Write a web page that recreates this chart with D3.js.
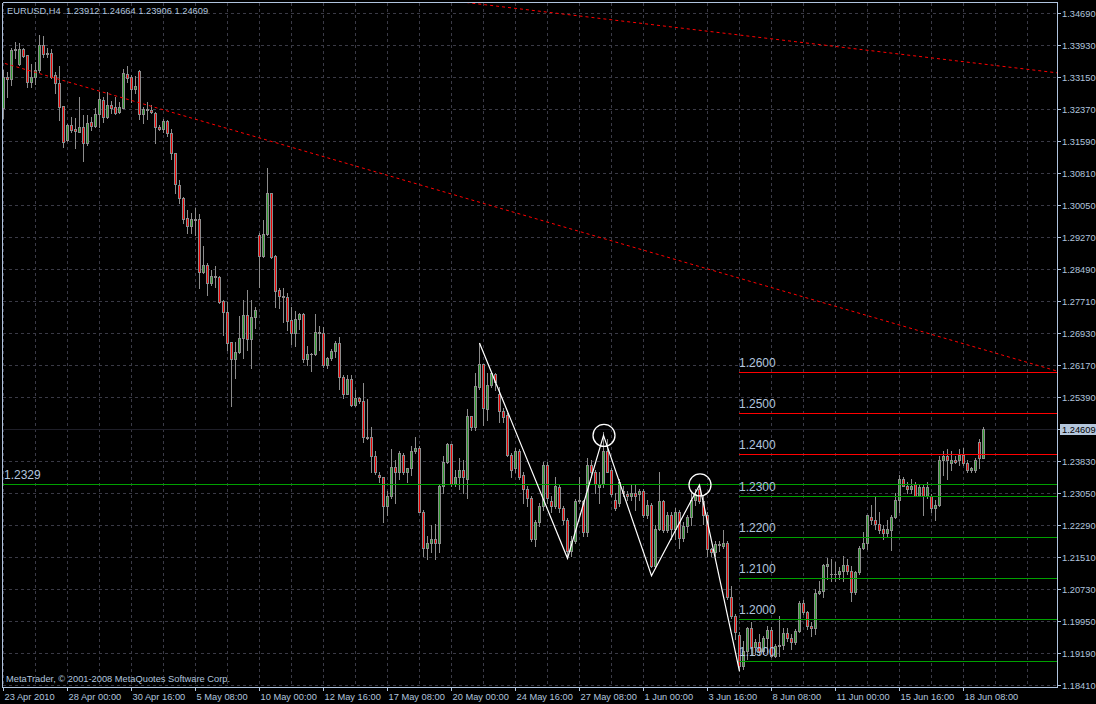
<!DOCTYPE html>
<html><head><meta charset="utf-8">
<script src="https://cdn.jsdelivr.net/npm/d3@7"></script>
<style>
html,body{margin:0;padding:0;background:#000;}
svg{display:block;}
text{font-family:"Liberation Sans",Arial,sans-serif;}
</style></head><body>
<svg id="c" width="1096" height="704"></svg>
<script>
// ---------------- data ----------------
const symbolTitle = "EURUSD,H4";
const startTimeUTC = "2010-04-23T08:00:00Z";   // first H4 bar
const opens = [1.3239,1.3314,1.3309,1.3380,1.3346,1.3382,1.3367,1.3302,1.3314,1.3331,
1.3392,1.3372,1.3372,1.3319,1.3300,1.3244,1.3162,1.3198,1.3188,1.3181,
1.3193,1.3154,1.3205,1.3196,1.3225,1.3259,1.3217,1.3246,1.3242,1.3230,
1.3239,1.3321,1.3314,1.3285,1.3329,1.3225,1.3234,1.3234,1.3227,1.3193,
1.3188,1.3208,1.3179,1.3130,1.3053,1.3021,1.2973,1.2954,1.2970,1.2970,
1.2842,1.2859,1.2816,1.2833,1.2830,1.2772,1.2746,1.2673,1.2632,1.2649,
1.2682,1.2738,1.2680,1.2733,1.2932,1.2881,1.2934,1.3033,1.2881,1.2799,
1.2784,1.2782,1.2726,1.2695,1.2729,1.2741,1.2632,1.2644,1.2644,1.2697,
1.2695,1.2617,1.2634,1.2651,1.2670,1.2588,1.2547,1.2583,1.2520,1.2537,
1.2530,1.2441,1.2441,1.2395,1.2351,1.2346,1.2274,1.2298,1.2370,1.2356,
1.2399,1.2358,1.2366,1.2409,1.2416,1.2261,1.2174,1.2184,1.2194,1.2184,
1.2322,1.2382,1.2424,1.2327,1.2344,1.2363,1.2341,1.2494,1.2467,1.2564,
1.2620,1.2511,1.2569,1.2595,1.2545,1.2506,1.2496,1.2399,1.2366,1.2409,
1.2351,1.2315,1.2295,1.2194,1.2235,1.2274,1.2373,1.2286,1.2274,1.2320,
1.2271,1.2240,1.2165,1.2189,1.2286,1.2286,1.2211,1.2375,1.2356,1.2320,
1.2327,1.2409,1.2361,1.2290,1.2283,1.2312,1.2303,1.2298,1.2307,1.2303,
1.2310,1.2254,1.2276,1.2128,1.2220,1.2286,1.2216,1.2252,1.2218,1.2259,
1.2196,1.2225,1.2247,1.2290,1.2317,1.2288,1.2254,1.2170,1.2162,1.2182,
1.2177,1.2184,1.2053,1.2007,1.1961,1.1886,1.1923,1.1978,1.1932,1.1944,
1.1923,1.1954,1.1973,1.1911,1.1935,1.1937,1.1966,1.1954,1.1944,1.1971,
1.2039,1.2017,1.1983,1.1978,1.2063,1.2068,1.2128,1.2111,1.2109,1.2109,
1.2116,1.2131,1.2116,1.2066,1.2114,1.2174,1.2184,1.2249,1.2240,1.2232,
1.2218,1.2208,1.2216,1.2247,1.2290,1.2339,1.2324,1.2315,1.2329,1.2300,
1.2320,1.2300,1.2298,1.2269,1.2278,1.2387,1.2397,1.2380,1.2387,1.2387,
1.2399,1.2380,1.2361,1.2363,1.2431,1.23912];
const highs = [1.3331,1.3326,1.3384,1.3399,1.3396,1.3384,1.3367,1.3346,1.3351,1.3416,
1.3413,1.3384,1.3382,1.3326,1.3341,1.3244,1.3200,1.3217,1.3215,1.3266,
1.3222,1.3222,1.3217,1.3239,1.3278,1.3266,1.3278,1.3256,1.3266,1.3254,
1.3334,1.3341,1.3319,1.3317,1.3331,1.3242,1.3254,1.3246,1.3230,1.3198,
1.3212,1.3210,1.3188,1.3130,1.3065,1.3024,1.2992,1.2985,1.2997,1.2983,
1.2905,1.2864,1.2847,1.2857,1.2833,1.2774,1.2770,1.2673,1.2673,1.2736,
1.2774,1.2799,1.2774,1.2758,1.2937,1.2968,1.3094,1.3033,1.2883,1.2804,
1.2804,1.2791,1.2758,1.2748,1.2743,1.2743,1.2663,1.2646,1.2741,1.2712,
1.2709,1.2637,1.2656,1.2675,1.2685,1.2593,1.2593,1.2593,1.2557,1.2540,
1.2574,1.2535,1.2465,1.2407,1.2356,1.2346,1.2310,1.2414,1.2387,1.2407,
1.2404,1.2368,1.2419,1.2443,1.2419,1.2264,1.2203,1.2228,1.2232,1.2327,
1.2395,1.2428,1.2424,1.2363,1.2392,1.2387,1.2511,1.2494,1.2598,1.2670,
1.2620,1.2598,1.2600,1.2598,1.2564,1.2513,1.2501,1.2404,1.2416,1.2412,
1.2356,1.2322,1.2298,1.2240,1.2283,1.2382,1.2382,1.2298,1.2346,1.2327,
1.2274,1.2245,1.2201,1.2291,1.2344,1.2290,1.2392,1.2387,1.2363,1.2356,
1.2455,1.2436,1.2366,1.2307,1.2339,1.2322,1.2310,1.2327,1.2327,1.2315,
1.2315,1.2290,1.2283,1.2228,1.2356,1.2290,1.2259,1.2259,1.2271,1.2266,
1.2235,1.2254,1.2307,1.2315,1.2327,1.2298,1.2259,1.2174,1.2189,1.2189,
1.2216,1.2191,1.2080,1.2012,1.1969,1.1947,1.1981,1.1993,1.1952,1.1964,
1.1959,1.1983,1.1981,1.1940,1.2007,1.1978,1.1978,1.1964,1.1976,1.2044,
1.2046,1.2020,1.1993,1.2073,1.2092,1.2133,1.2148,1.2145,1.2140,1.2126,
1.2153,1.2145,1.2128,1.2116,1.2177,1.2211,1.2254,1.2276,1.2298,1.2259,
1.2228,1.2240,1.2252,1.2307,1.2349,1.2346,1.2332,1.2341,1.2332,1.2327,
1.2327,1.2332,1.2303,1.2290,1.2395,1.2409,1.2412,1.2407,1.2395,1.2412,
1.2416,1.2387,1.2370,1.2392,1.2438,1.24664];
const lows = [1.3215,1.3266,1.3295,1.3360,1.3343,1.3363,1.3290,1.3290,1.3297,1.3326,
1.3363,1.3363,1.3312,1.3275,1.3210,1.3145,1.3159,1.3181,1.3142,1.3181,
1.3111,1.3150,1.3186,1.3193,1.3193,1.3205,1.3215,1.3227,1.3225,1.3227,
1.3239,1.3302,1.3254,1.3275,1.3212,1.3203,1.3212,1.3227,1.3154,1.3186,
1.3181,1.3171,1.3116,1.3033,1.3009,1.2961,1.2937,1.2937,1.2932,1.2804,
1.2840,1.2787,1.2811,1.2806,1.2767,1.2690,1.2654,1.2516,1.2586,1.2646,
1.2634,1.2654,1.2610,1.2707,1.2806,1.2879,1.2932,1.2876,1.2758,1.2755,
1.2721,1.2702,1.2668,1.2663,1.2704,1.2624,1.2617,1.2603,1.2641,1.2654,
1.2612,1.2610,1.2629,1.2637,1.2559,1.2537,1.2545,1.2516,1.2516,1.2525,
1.2431,1.2438,1.2358,1.2353,1.2332,1.2235,1.2254,1.2295,1.2283,1.2339,
1.2353,1.2334,1.2349,1.2404,1.2259,1.2153,1.2145,1.2162,1.2145,1.2162,
1.2307,1.2380,1.2322,1.2322,1.2315,1.2307,1.2295,1.2458,1.2460,1.2559,
1.2470,1.2484,1.2564,1.2557,1.2479,1.2479,1.2395,1.2346,1.2358,1.2339,
1.2283,1.2274,1.2189,1.2177,1.2225,1.2266,1.2283,1.2261,1.2271,1.2261,
1.2232,1.2153,1.2153,1.2184,1.2283,1.2203,1.2203,1.2346,1.2307,1.2283,
1.2320,1.2356,1.2298,1.2266,1.2274,1.2298,1.2290,1.2290,1.2266,1.2290,
1.2249,1.2245,1.2126,1.2124,1.2216,1.2211,1.2211,1.2194,1.2194,1.2174,
1.2189,1.2211,1.2228,1.2278,1.2281,1.2232,1.2153,1.2153,1.2153,1.2165,
1.2172,1.2049,1.2003,1.1952,1.1879,1.1879,1.1903,1.1915,1.1915,1.1915,
1.1915,1.1920,1.1908,1.1908,1.1911,1.1928,1.1947,1.1928,1.1940,1.1969,
1.2012,1.1976,1.1959,1.1964,1.2061,1.2053,1.2097,1.2092,1.2092,1.2097,
1.2092,1.2109,1.2044,1.2061,1.2111,1.2170,1.2170,1.2232,1.2220,1.2208,
1.2194,1.2203,1.2167,1.2245,1.2261,1.2322,1.2307,1.2305,1.2298,1.2298,
1.2254,1.2295,1.2261,1.2240,1.2274,1.2351,1.2339,1.2363,1.2378,1.2375,
1.2375,1.2358,1.2356,1.2358,1.2368,1.23906];
const closes = [1.3314,1.3309,1.3380,1.3382,1.3382,1.3365,1.3302,1.3314,1.3331,1.3392,
1.3370,1.3370,1.3314,1.3300,1.3242,1.3157,1.3198,1.3186,1.3183,1.3193,
1.3154,1.3203,1.3196,1.3225,1.3261,1.3217,1.3246,1.3239,1.3227,1.3242,
1.3324,1.3312,1.3285,1.3292,1.3225,1.3237,1.3237,1.3230,1.3193,1.3188,
1.3208,1.3179,1.3130,1.3055,1.3021,1.2970,1.2954,1.2970,1.2969,1.2842,
1.2859,1.2816,1.2833,1.2830,1.2770,1.2746,1.2670,1.2632,1.2649,1.2682,
1.2738,1.2680,1.2733,1.2750,1.2881,1.2934,1.3033,1.2879,1.2796,1.2784,
1.2782,1.2724,1.2695,1.2729,1.2741,1.2632,1.2644,1.2643,1.2697,1.2695,
1.2617,1.2634,1.2651,1.2670,1.2588,1.2547,1.2583,1.2520,1.2537,1.2530,
1.2441,1.2440,1.2395,1.2356,1.2346,1.2274,1.2300,1.2370,1.2356,1.2402,
1.2358,1.2366,1.2409,1.2416,1.2261,1.2174,1.2184,1.2194,1.2184,1.2322,
1.2382,1.2424,1.2327,1.2346,1.2363,1.2346,1.2494,1.2467,1.2566,1.2620,
1.2513,1.2569,1.2598,1.2576,1.2504,1.2491,1.2399,1.2363,1.2409,1.2344,
1.2317,1.2295,1.2194,1.2235,1.2274,1.2373,1.2295,1.2274,1.2322,1.2271,
1.2240,1.2165,1.2189,1.2286,1.2290,1.2211,1.2375,1.2356,1.2327,1.2329,
1.2409,1.2358,1.2303,1.2271,1.2332,1.2305,1.2298,1.2307,1.2300,1.2310,
1.2254,1.2276,1.2128,1.2220,1.2286,1.2216,1.2252,1.2220,1.2259,1.2196,
1.2225,1.2249,1.2290,1.2303,1.2288,1.2254,1.2170,1.2162,1.2182,1.2179,
1.2184,1.2053,1.2007,1.1969,1.1886,1.1923,1.1978,1.1932,1.1944,1.1923,
1.1954,1.1973,1.1911,1.1935,1.1937,1.1966,1.1954,1.1944,1.1971,1.2039,
1.2017,1.1983,1.1978,1.2063,1.2068,1.2131,1.2133,1.2109,1.2111,1.2116,
1.2131,1.2116,1.2066,1.2114,1.2174,1.2184,1.2252,1.2240,1.2230,1.2216,
1.2208,1.2218,1.2249,1.2290,1.2339,1.2324,1.2315,1.2322,1.2300,1.2320,
1.2300,1.2320,1.2269,1.2278,1.2387,1.2397,1.2387,1.2387,1.2382,1.2399,
1.2380,1.2363,1.2366,1.2385,1.2392,1.24609];

const priceTickLabels = ["1.34690","1.33930","1.33150","1.32370","1.31590","1.30810","1.30050",
"1.29270","1.28490","1.27710","1.26930","1.26170","1.25390","1.24610","1.23830","1.23050",
"1.22290","1.21510","1.20730","1.19950","1.19190","1.18410"];
const timeTickLabels = ["23 Apr 2010","28 Apr 00:00","30 Apr 16:00","5 May 08:00","10 May 00:00",
"12 May 16:00","17 May 08:00","20 May 00:00","24 May 16:00","27 May 08:00","1 Jun 00:00",
"3 Jun 16:00","8 Jun 08:00","11 Jun 00:00","15 Jun 16:00","18 Jun 08:00"];

const levelValues = [1.2600,1.2500,1.2400,1.2300,1.2200,1.2100,1.2000,1.1900];
const levelLabels = ["1.2600","1.2500","1.2400","1.2300","1.2200","1.2100","1.2000","1.1900"];
const levelKinds  = ["red","red","red","green","green","green","green","green"];
const levelStartBar = 184;
const fullLineValue = 1.2329;
const fullLineLabel = "1.2329";

const zigzagBars   = [119,141,150,162,174,184];
const zigzagPrices = [1.2671,1.2149,1.2447,1.2107,1.2327,1.1875];
const circleBars   = [150,174];
const circlePrices = [1.2447,1.2327];

const trendLowerBars   = [0,263.5];
const trendLowerPrices = [1.3350,1.2603];
const trendUpperBars   = [116.25,263.5];
const trendUpperPrices = [1.3496,1.3326];

const copyright = "MetaTrader, \u00A9 2001-2008 MetaQuotes Software Corp.";

// ---------------- drawing ----------------
const W = 1096, H = 704;
const L = 3, R = 1057, T = 3, B = 687;
const svg = d3.select("#c");
svg.append("rect").attr("width",W).attr("height",H).attr("fill","#000");

const x = d3.scaleLinear().domain([0,263.5]).range([L,R]);
const y = d3.scaleLinear().domain([1.26,1.19]).range([372.3,661.05]);
const py = v => Math.floor(y(v));

const fg = "#b0c4de";
const gridCol = "#3a3a46";
const fs = "9.3px";

svg.append("clipPath").attr("id","plot").append("rect")
  .attr("x",L).attr("y",T).attr("width",R-L).attr("height",B-T);
const plot = svg.append("g").attr("clip-path","url(#plot)");

// grid
const nBars = closes.length;
const vGrid = d3.range(0,264,8);
plot.append("g").selectAll("line").data(vGrid).join("line")
  .attr("x1",d=>Math.round(x(d))+0.5).attr("x2",d=>Math.round(x(d))+0.5)
  .attr("y1",T).attr("y2",B)
  .attr("stroke",gridCol).attr("stroke-dasharray","3,3").attr("stroke-width",1);
const priceTickValues = priceTickLabels.map(Number);
plot.append("g").selectAll("line").data(priceTickValues).join("line")
  .attr("x1",L).attr("x2",R)
  .attr("y1",d=>py(d)+0.5).attr("y2",d=>py(d)+0.5)
  .attr("stroke",gridCol).attr("stroke-dasharray","3,3").attr("stroke-width",1);

// bid line
const lastClose = closes[nBars-1];
plot.append("line").attr("x1",L).attr("x2",R)
  .attr("y1",py(lastClose)+0.5).attr("y2",py(lastClose)+0.5)
  .attr("stroke","#1e1e28").attr("stroke-width",1);

// candles
const bars = d3.range(nBars).map(i=>({i,o:opens[i],h:highs[i],l:lows[i],c:closes[i]}));
const cg = plot.append("g").attr("shape-rendering","crispEdges");
const wickCol = "#8c8c8c";
bars.forEach(b=>{
  const cx = Math.round(x(b.i));
  const yh = py(b.h), yl = py(b.l);
  cg.append("rect").attr("x",cx).attr("width",1).attr("y",yh).attr("height",Math.max(1,yl-yh+1)).attr("fill",wickCol);
  const top = py(Math.max(b.o,b.c)), bot = py(Math.min(b.o,b.c));
  cg.append("rect").attr("x",cx-1).attr("width",3).attr("y",top).attr("height",Math.max(1,bot-top+1)).attr("fill",wickCol);
  if (bot-top-1 > 0) {
    cg.append("rect").attr("x",cx).attr("width",1).attr("y",top+1).attr("height",bot-top-1)
      .attr("fill", b.c>=b.o ? "#2f9a2f" : "#ee0000");
  }
});

// level lines
const lvl = plot.append("g").attr("shape-rendering","crispEdges");
lvl.append("line").attr("x1",0).attr("x2",R)
  .attr("y1",py(fullLineValue)+0.5).attr("y2",py(fullLineValue)+0.5)
  .attr("stroke","#00a000").attr("stroke-width",1);
levelValues.forEach((v,k)=>{
  lvl.append("line").attr("x1",Math.round(x(levelStartBar))).attr("x2",R)
    .attr("y1",py(v)+0.5).attr("y2",py(v)+0.5)
    .attr("stroke", levelKinds[k]==="red" ? "#ff0000" : "#00a000").attr("stroke-width",1);
});

// trend lines (dotted red)
function trend(bs,ps){
  const slope = (ps[1]-ps[0])/(bs[1]-bs[0]);
  const b0 = bs[0]-60, b1 = bs[1];
  plot.append("line")
    .attr("x1",x(b0)).attr("y1",y(ps[0]+slope*(b0-bs[0])))
    .attr("x2",x(b1)).attr("y2",y(ps[1]))
    .attr("stroke","#ff0000").attr("stroke-width",1).attr("stroke-dasharray","3,3");
}
trend(trendLowerBars,trendLowerPrices);
trend(trendUpperBars,trendUpperPrices);

// zigzag
const zz = d3.line().x(d=>x(d[0])+0.5).y(d=>y(d[1]));
plot.append("path").datum(zigzagBars.map((b,k)=>[b,zigzagPrices[k]]))
  .attr("d",zz).attr("fill","none").attr("stroke","#ffffff").attr("stroke-width",1.2);
plot.append("g").selectAll("circle").data(circleBars.map((b,k)=>[b,circlePrices[k]])).join("circle")
  .attr("cx",d=>x(d[0])+1).attr("cy",d=>y(d[1]))
  .attr("r",11).attr("fill","none").attr("stroke","#ffffff").attr("stroke-width",1.3);

// level labels
const lt = svg.append("g").attr("fill",fg).style("font-size","12px");
levelValues.forEach((v,k)=>{
  lt.append("text").attr("x",Math.round(x(levelStartBar))).attr("y",py(v)-5).text(levelLabels[k]);
});
lt.append("text").attr("x",4).attr("y",py(fullLineValue)-5).text(fullLineLabel);

// frame
const fr = svg.append("g").attr("shape-rendering","crispEdges").attr("stroke",fg).attr("fill","none");
fr.append("line").attr("x1",2.5).attr("x2",2.5).attr("y1",2.5).attr("y2",B+0.5);
fr.append("line").attr("x1",2.5).attr("x2",R+0.5).attr("y1",2.5).attr("y2",2.5);
fr.append("line").attr("x1",2.5).attr("x2",R+0.5).attr("y1",B+0.5).attr("y2",B+0.5);
fr.append("line").attr("x1",R+0.5).attr("x2",R+0.5).attr("y1",2.5).attr("y2",B+0.5);

// time axis
const t0 = new Date(startTimeUTC);
const barTimes = [];
{ let t = new Date(t0);
  while (barTimes.length < nBars) {
    const wd = t.getUTCDay();
    if (wd !== 0 && wd !== 6) barTimes.push(new Date(t));
    t = new Date(t.getTime() + 4*3600*1000);
  }
}
const fmtT = d3.utcFormat("%-d %b %H:%M"), fmtD = d3.utcFormat("%-d %b %Y");
const timeTickIdx = timeTickLabels.map(lab => barTimes.findIndex(t => fmtT(t)===lab || fmtD(t)===lab));
const xAxis = d3.axisBottom(x).tickValues(timeTickIdx).tickFormat((d,k)=>timeTickLabels[k]).tickSize(4).tickSizeOuter(0);
const gx = svg.append("g").attr("transform",`translate(0,${B})`).call(xAxis);
gx.select(".domain").remove();
gx.selectAll("line").attr("stroke",fg);
gx.selectAll("text").attr("fill",fg).attr("text-anchor","start").attr("x",1).attr("y",13).attr("dy",null)
  .style("font-size",fs).style("font-family","'Liberation Sans',Arial,sans-serif");

// price axis
const yAxis = d3.axisRight(y).tickValues(priceTickValues).tickFormat((d,k)=>priceTickLabels[k]).tickSize(4).tickSizeOuter(0);
const gy = svg.append("g").attr("transform",`translate(${R},0)`).call(yAxis);
gy.select(".domain").remove();
gy.selectAll(".tick").attr("transform",d=>`translate(0,${py(d)+0.5})`);
gy.selectAll("line").attr("stroke",fg);
gy.selectAll("text").attr("fill",fg).attr("x",5).attr("dy","0.34em")
  .style("font-size",fs).style("font-family","'Liberation Sans',Arial,sans-serif");

// current price box
const yc = py(lastClose);
svg.append("rect").attr("x",R+3).attr("y",yc-5).attr("width",W-R-3).attr("height",11).attr("fill","#b4c6dc");
svg.append("text").attr("x",R+5).attr("y",yc+0.5).attr("dy","0.34em").attr("fill","#000")
  .style("font-size",fs).text(d3.format(".5f")(lastClose));

// header
svg.append("text").attr("x",7).attr("y",14).attr("fill",fg).style("font-size",fs)
  .attr("xml:space","preserve").style("white-space","pre")
  .text(`${symbolTitle}  ${d3.format(".5f")(opens[nBars-1])} ${d3.format(".5f")(highs[nBars-1])} ${d3.format(".5f")(lows[nBars-1])} ${d3.format(".5f")(closes[nBars-1])}`);

// copyright
svg.append("text").attr("x",6).attr("y",682).attr("fill",fg).style("font-size",fs).text(copyright);
</script>
</body></html>
